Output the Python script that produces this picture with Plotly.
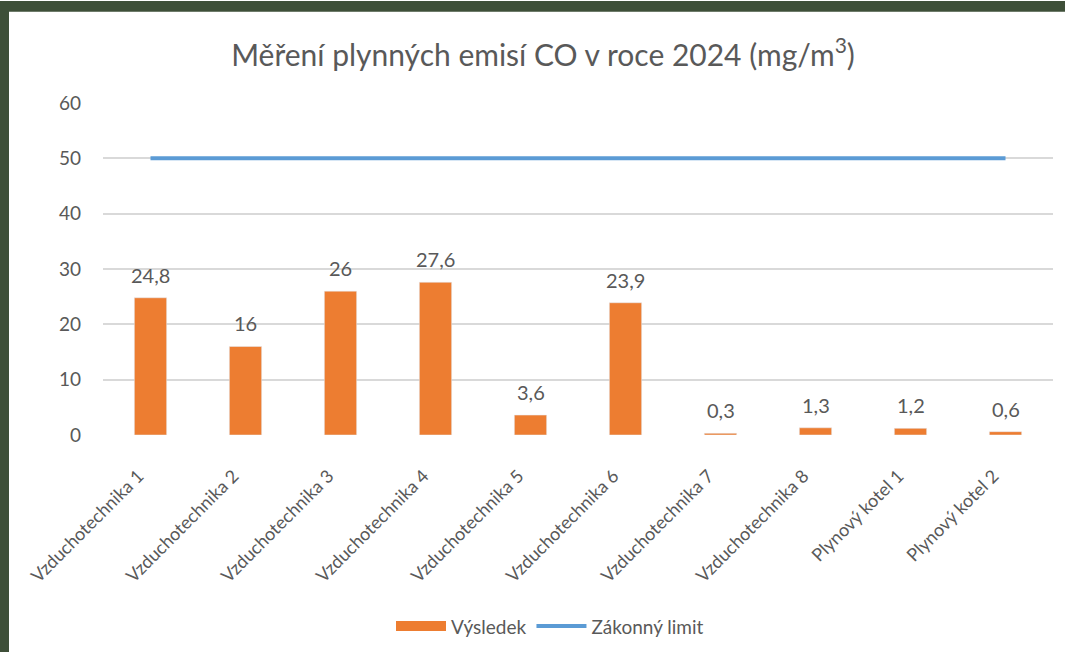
"""CO emissions chart rebuilt with Plotly."""
import plotly.graph_objects as go

categories = [
    "Vzduchotechnika 1", "Vzduchotechnika 2", "Vzduchotechnika 3", "Vzduchotechnika 4",
    "Vzduchotechnika 5", "Vzduchotechnika 6", "Vzduchotechnika 7", "Vzduchotechnika 8",
    "Plynový kotel 1", "Plynový kotel 2",
]
results = [24.8, 16, 26, 27.6, 3.6, 23.9, 0.3, 1.3, 1.2, 0.6]
legal_limit = [50] * len(categories)
y_ticks = [0, 10, 20, 30, 40, 50, 60]

W, H = 1065, 657
L, R, T, B = 103, 12, 103, 219
PW, PH = W - L - R, H - T - B
GREEN = "#3e4f38"
GREY = "#595959"
ORANGE = "#ed7d31"
BLUE = "#5b9bd5"


def px_x(x):
    return (x - L) / PW


def px_y(y):
    return (H - B - y) / PH


fig = go.Figure()
fig.add_trace(
    go.Bar(
        x=categories,
        y=results,
        name="Výsledek",
        marker=dict(color=ORANGE),
        showlegend=False,
    )
)
# legend entry drawn as a wide bar-like swatch
fig.add_trace(
    go.Scatter(
        x=[None], y=[None], mode="lines", name="Výsledek",
        line=dict(color=ORANGE, width=11),
    )
)
fig.add_trace(
    go.Scatter(
        x=categories,
        y=legal_limit,
        name="Zákonný limit",
        mode="lines",
        line=dict(color=BLUE, width=4),
    )
)

# value labels above the bars
for cat, val in zip(categories, results):
    fig.add_annotation(
        x=cat, y=val, text=f"{val:g}".replace(".", ","),
        showarrow=False, yanchor="bottom", yshift=9,
        font=dict(size=20, color=GREY),
    )

# dark green frame on top and left edge
fig.add_shape(type="rect", xref="paper", yref="paper", layer="below",
              x0=px_x(0), x1=px_x(9), y0=px_y(H), y1=px_y(0),
              fillcolor=GREEN, line_width=0)
fig.add_shape(type="rect", xref="paper", yref="paper", layer="below",
              x0=px_x(0), x1=px_x(W), y0=px_y(11), y1=px_y(0),
              fillcolor=GREEN, line_width=0)

fig.update_layout(
    width=W,
    height=H,
    margin=dict(l=L, r=R, t=T, b=B),
    paper_bgcolor="white",
    plot_bgcolor="white",
    font=dict(family="Lato, Open Sans, sans-serif", color=GREY),
    separators=", ",
    title=dict(
        text="Měření plynných emisí CO v roce 2024 (mg/m<sup>3</sup>)",
        x=543 / W, xanchor="center",
        y=1 - 55 / H, yanchor="middle",
        font=dict(size=30, color=GREY),
    ),
    bargap=0.66,
    showlegend=True,
    legend=dict(
        orientation="h",
        x=px_x(550), xanchor="center",
        y=px_y(631), yanchor="middle",
        font=dict(size=19, color=GREY),
        itemwidth=50,
    ),
    xaxis=dict(
        tickangle=-45,
        tickfont=dict(size=18, color=GREY),
        showline=False,
        ticks="",
        ticklabelstandoff=26,
        ticklabelshift=-12,
    ),
    yaxis=dict(
        range=[0, 60],
        tickvals=y_ticks,
        tickfont=dict(size=19, color=GREY),
        gridcolor="#d9d9d9",
        gridwidth=1.5,
        zeroline=False,
        showline=False,
        ticklabelstandoff=21,
    ),
)

fig.write_html(
    "out.html",
    config={"displayModeBar": False},
    post_script="document.body.style.margin='0';",
)
